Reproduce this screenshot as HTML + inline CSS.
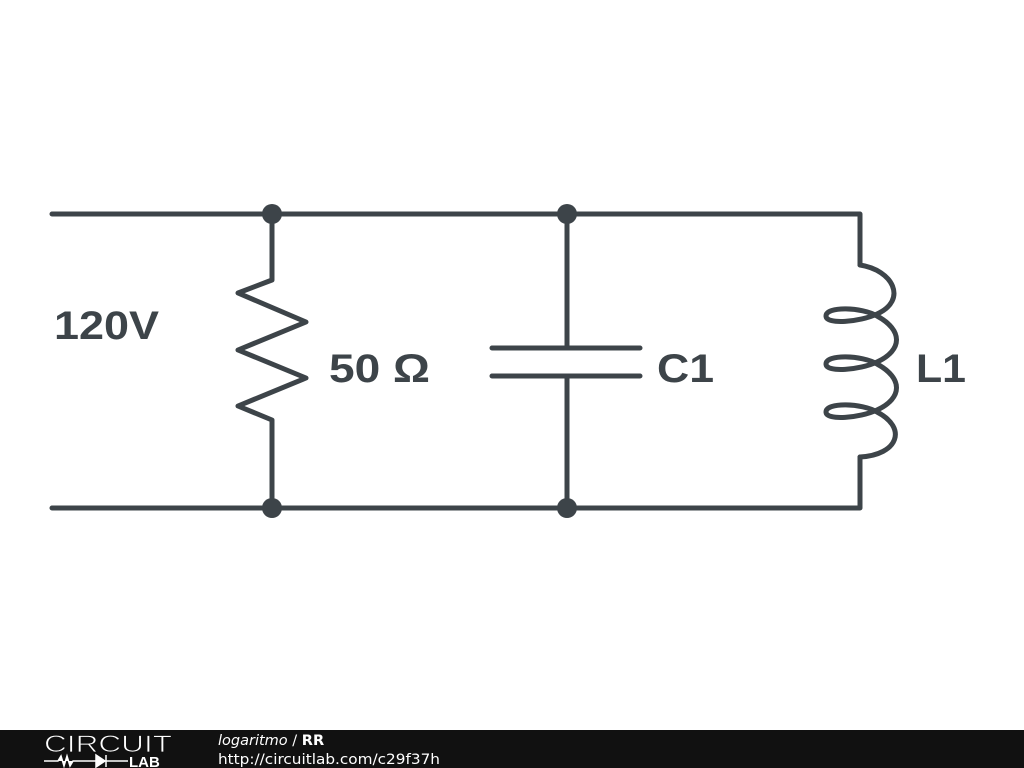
<!DOCTYPE html>
<html><head><style>
body{margin:0;width:1024px;height:768px;background:#fff;overflow:hidden;font-family:"Liberation Sans",sans-serif}
</style></head><body>
<svg width="1024" height="768" viewBox="0 0 1024 768" style="position:absolute;left:0;top:0">
<g stroke="#3d4449" stroke-width="5" fill="none" stroke-linecap="round" stroke-linejoin="round">
<path d="M52,214 H860 V265"/>
<path d="M52,508 H860 V457"/>
<path d="M272,214 V280 L238,293 L306,322 L238,350 L306,378 L238,406 L272,420 V508"/>
<path d="M567,214 V348 M567,376 V508"/>
<path d="M492,348 H640 M492,376 H640" stroke-width="5"/>
<path d="M860,265 C893,270 908,300 877,314 C860,322 826,325 826,316 C826,306 862,307 877,316 C903,330 903,350 877,362 C860,370 826,373 826,364 C826,354 862,355 877,364 C903,378 903,398 877,410 C860,418 826,421 826,412 C826,402 862,403 877,412 C908,428 898,455 860,457"/>
</g>
<g fill="#3d4449">
<circle cx="272" cy="214" r="10"/><circle cx="567" cy="214" r="10"/>
<circle cx="272" cy="508" r="10"/><circle cx="567" cy="508" r="10"/>
</g>
<g fill="#3d4449" font-family="Liberation Sans, sans-serif" font-weight="bold" font-size="40">
<text x="54" y="339" textLength="105" lengthAdjust="spacingAndGlyphs">120V</text>
<text x="329" y="382" textLength="101" lengthAdjust="spacingAndGlyphs">50 Ω</text>
<text x="657" y="382" textLength="57" lengthAdjust="spacingAndGlyphs">C1</text>
<text x="916" y="382" textLength="50" lengthAdjust="spacingAndGlyphs">L1</text>
</g>
<rect x="0" y="730" width="1024" height="38" fill="#111"/>
<text x="44" y="752" fill="#fff" font-size="24" font-family="Liberation Sans, sans-serif" textLength="128" lengthAdjust="spacingAndGlyphs" stroke="#111" stroke-width="0.8">CIRCUIT</text>
<path d="M44,761 H58 L61,756 L64,766 L67,756 L70,766 L73,761 H96 M96,755 V767 L105,761 Z M106,755 V767 M106,761 H128" stroke="#fff" stroke-width="1.5" fill="#fff"/>
<text x="129" y="767" fill="#fff" font-size="15" font-weight="bold" font-family="Liberation Sans, sans-serif">LAB</text>
<text x="218" y="745" fill="#fff" font-size="14.5" font-family="DejaVu Sans, sans-serif"><tspan font-style="italic">logaritmo</tspan> / <tspan font-weight="bold">RR</tspan></text>
<text x="218" y="764" fill="#fff" font-size="14.5" font-family="DejaVu Sans, sans-serif" textLength="222" lengthAdjust="spacingAndGlyphs">http://circuitlab.com/c29f37h</text>
</svg>
</body></html>
